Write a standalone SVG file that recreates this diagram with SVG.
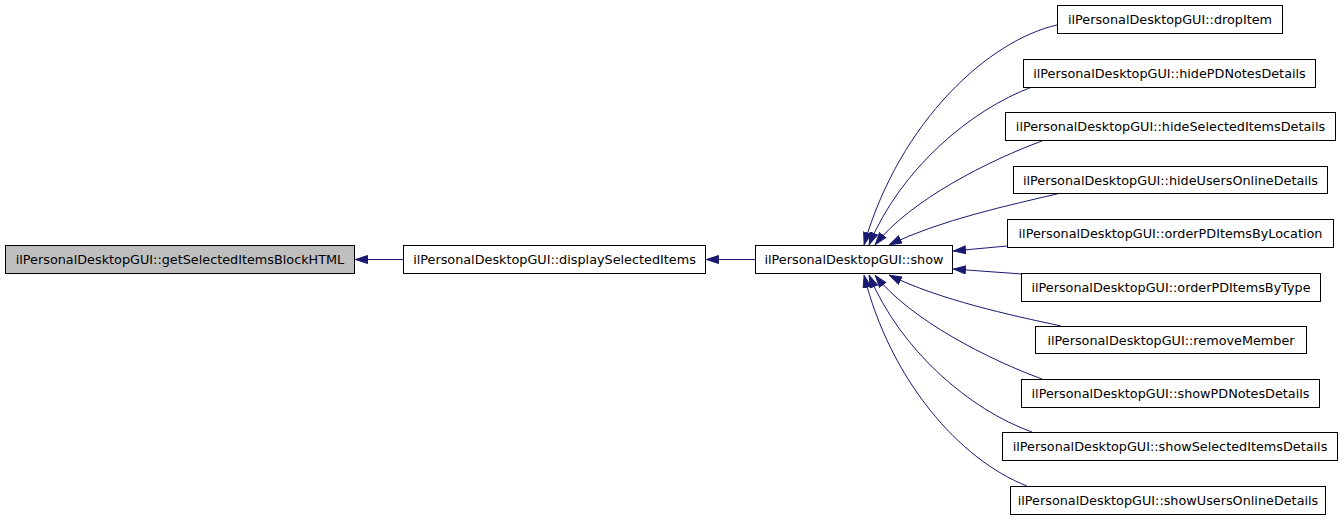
<svg xmlns="http://www.w3.org/2000/svg" width="1344" height="520" viewBox="0 0 1344 520">
<style>
.n rect{fill:#ffffff;stroke:#000000;stroke-width:1}
.n.h rect{fill:#bfbfbf}
.n text{font-family:"DejaVu Sans",sans-serif;font-size:12.8px;fill:#000000;text-anchor:middle}
.e path{fill:none;stroke:#191970;stroke-width:1;marker-end:url(#ah)}
</style>
<defs>
<marker id="ah" viewBox="0 0 13 9" refX="13" refY="4.5" markerWidth="13" markerHeight="9" markerUnits="userSpaceOnUse" orient="auto">
<path d="M0.5,0.5 L12.5,4.5 L0.5,8.5 z" fill="#191970" stroke="#191970" stroke-width="1"/>
</marker>
</defs>
<rect width="1344" height="520" fill="#ffffff"/>
<g id="connectors" class="e">
<path d="M403,259.5 L355,259.5"/>
<path d="M755,259.5 L706,259.5"/>
<path d="M1057,25 C990,40 900,120 864,245"/>
<path d="M1032,87 C970,110 900,170 869,245"/>
<path d="M1042,141 C990,160 910,200 875,245"/>
<path d="M1061,193 C1010,205 940,220 889,245"/>
<path d="M1007,246 L953,251"/>
<path d="M1022,274 L953,269"/>
<path d="M1061,326 C1010,315 940,300 889,275"/>
<path d="M1042,379 C990,360 910,320 875,275"/>
<path d="M1032,432 C970,410 900,350 869,275"/>
<path d="M1027,486 C960,460 890,380 864,275"/>
</g>
<g id="getSelectedItemsBlockHTML" class="n h"><rect x="5.5" y="245.5" width="349" height="28"/><text x="180" y="264">ilPersonalDesktopGUI::getSelectedItemsBlockHTML</text></g>
<g id="displaySelectedItems" class="n"><rect x="403.5" y="245.5" width="302" height="28"/><text x="554.5" y="264">ilPersonalDesktopGUI::displaySelectedItems</text></g>
<g id="show" class="n"><rect x="755.5" y="245.5" width="197" height="28"/><text x="854" y="264">ilPersonalDesktopGUI::show</text></g>
<g id="dropItem" class="n"><rect x="1057.5" y="5.5" width="225" height="28"/><text x="1170" y="24">ilPersonalDesktopGUI::dropItem</text></g>
<g id="hidePDNotesDetails" class="n"><rect x="1023.5" y="59.5" width="292" height="28"/><text x="1169.5" y="78">ilPersonalDesktopGUI::hidePDNotesDetails</text></g>
<g id="hideSelectedItemsDetails" class="n"><rect x="1005.5" y="112.5" width="330" height="28"/><text x="1170.5" y="131">ilPersonalDesktopGUI::hideSelectedItemsDetails</text></g>
<g id="hideUsersOnlineDetails" class="n"><rect x="1013.5" y="166.5" width="314" height="27"/><text x="1170.5" y="184.5">ilPersonalDesktopGUI::hideUsersOnlineDetails</text></g>
<g id="orderPDItemsByLocation" class="n"><rect x="1007.5" y="219.5" width="326" height="28"/><text x="1170.5" y="238">ilPersonalDesktopGUI::orderPDItemsByLocation</text></g>
<g id="orderPDItemsByType" class="n"><rect x="1021.5" y="273.5" width="299" height="28"/><text x="1171" y="292">ilPersonalDesktopGUI::orderPDItemsByType</text></g>
<g id="removeMember" class="n"><rect x="1035.5" y="326.5" width="271" height="27"/><text x="1171" y="344.5">ilPersonalDesktopGUI::removeMember</text></g>
<g id="showPDNotesDetails" class="n"><rect x="1021.5" y="379.5" width="298" height="28"/><text x="1170.5" y="398">ilPersonalDesktopGUI::showPDNotesDetails</text></g>
<g id="showSelectedItemsDetails" class="n"><rect x="1002.5" y="432.5" width="335" height="28"/><text x="1170" y="451">ilPersonalDesktopGUI::showSelectedItemsDetails</text></g>
<g id="showUsersOnlineDetails" class="n"><rect x="1010.5" y="486.5" width="315" height="28"/><text x="1168" y="505">ilPersonalDesktopGUI::showUsersOnlineDetails</text></g>
</svg>
